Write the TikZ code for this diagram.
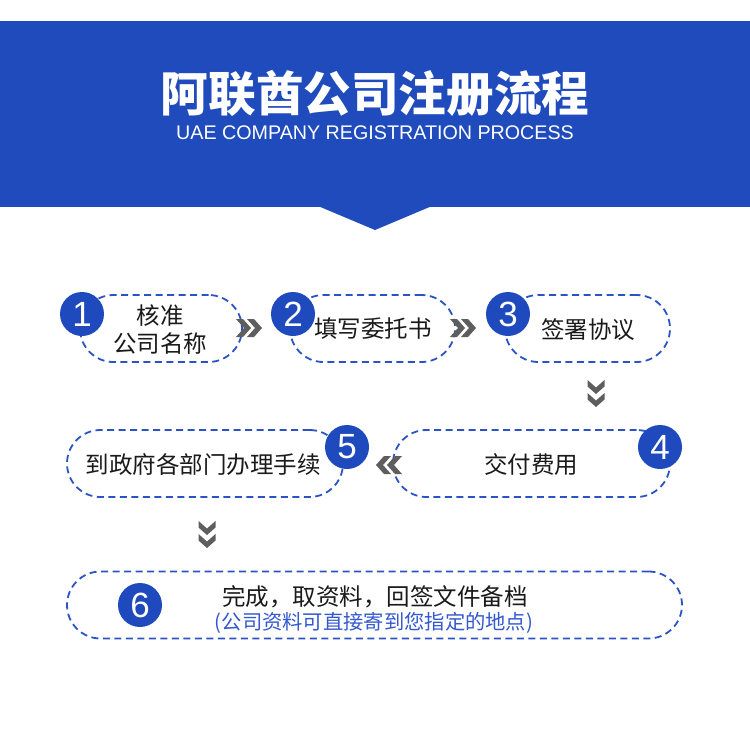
\documentclass[tikz,border=0pt]{standalone}
\usepackage{fontspec}
\setmainfont{Liberation Sans}
\newfontfamily\cjk{Noto Sans CJK SC}
\definecolor{bandblue}{HTML}{1F4BBD}
\definecolor{dotblue}{HTML}{1E4ABD}
\definecolor{dashblue}{HTML}{2B53C6}
\definecolor{subblue}{HTML}{3358CF}
\definecolor{chevgray}{HTML}{5E5E5E}
\definecolor{txtblack}{HTML}{1A1A1A}
\begin{document}
\begin{tikzpicture}[x=1pt,y=-1pt,
  stadium/.style={draw=dashblue, line width=1.8pt, dash pattern=on 7pt off 4.5pt,
    rounded corners=33.5pt, minimum height=67pt, inner sep=0pt},
  numdot/.style={circle, fill=dotblue, minimum size=44pt, inner sep=0pt, text=white,
    font=\fontsize{35}{35}\selectfont},
  steptxt/.style={font=\cjk\fontsize{23.5}{28}\selectfont, text=txtblack, align=center, inner sep=0pt},
  chevR/.pic={
    \fill[chevgray] (-13,-9) -- (-6,-9) -- (2,0) -- (-6,9) -- (-13,9) -- (-5,0) -- cycle;
    \fill[chevgray] (-2,-9) -- (5,-9) -- (13,0) -- (5,9) -- (-2,9) -- (6,0) -- cycle;},
  chevL/.pic={
    \fill[chevgray] (13,-9) -- (6,-9) -- (-2,0) -- (6,9) -- (13,9) -- (5,0) -- cycle;
    \fill[chevgray] (2,-9) -- (-5,-9) -- (-13,0) -- (-5,9) -- (2,9) -- (-6,0) -- cycle;},
  chevD/.pic={
    \fill[chevgray] (-8.5,-14) -- (0,-6.5) -- (8.5,-14) -- (8.5,-7.5) -- (0,0) -- (-8.5,-7.5) -- cycle;
    \fill[chevgray] (-8.5,-1) -- (0,6.5) -- (8.5,-1) -- (8.5,5.5) -- (0,13) -- (-8.5,5.5) -- cycle;}
]
\useasboundingbox (0,0) rectangle (750,739);
\fill[white] (0,0) rectangle (750,739);

% header band
\fill[bandblue] (0,21) rectangle (750,207);
\fill[bandblue] (318,206) -- (432,206) -- (375,230) -- cycle;
\node[text=white, font=\cjk\bfseries\fontsize{47.6}{47.6}\selectfont, inner sep=0pt] (title) at (375,93) {阿联酋公司注册流程};
\node[text=white, font=\fontsize{19.7}{19.7}\selectfont, inner sep=0pt] (subtitle) at (375,133) {UAE COMPANY REGISTRATION PROCESS};

% step boxes
\node[stadium, minimum width=162pt] (b1) at (161,328.5) {};
\node[stadium, minimum width=165pt] (b2) at (372.5,328.5) {};
\node[stadium, minimum width=165pt] (b3) at (587.5,328.5) {};
\node[stadium, minimum width=277pt] (b4) at (531.5,463.5) {};
\node[stadium, minimum width=276pt] (b5) at (205,463.5) {};
\node[stadium, minimum width=615pt] (b6) at (374.5,605) {};

% texts
\node[steptxt] (t1) at (160,329.5) {核准\\公司名称};
\node[steptxt] (t2) at (373,329) {填写委托书};
\node[steptxt] (t3) at (588,330) {签署协议};
\node[steptxt] (t4) at (531,465) {交付费用};
\node[steptxt] (t5) at (203,465) {到政府各部门办理手续};
\node[steptxt] (t6) at (375,597) {完成，取资料，回签文件备档};
\node[font=\cjk\fontsize{20.3}{21}\selectfont, text=subblue, inner sep=0pt] (t6b) at (374,623) {(公司资料可直接寄到您指定的地点)};

% number dots
\node[numdot] (c1) at (82,314) {1};
\node[numdot] (c2) at (293,314) {2};
\node[numdot] (c3) at (508,314) {3};
\node[numdot] (c4) at (660,447) {4};
\node[numdot] (c5) at (347,447) {5};
\node[numdot] (c6) at (140,605) {6};

% chevrons
\pic at (249,328) {chevR};
\pic at (463,328) {chevR};
\pic at (389,465) {chevL};
\pic at (596,394) {chevD};
\pic at (207,535) {chevD};
\end{tikzpicture}
\end{document}
